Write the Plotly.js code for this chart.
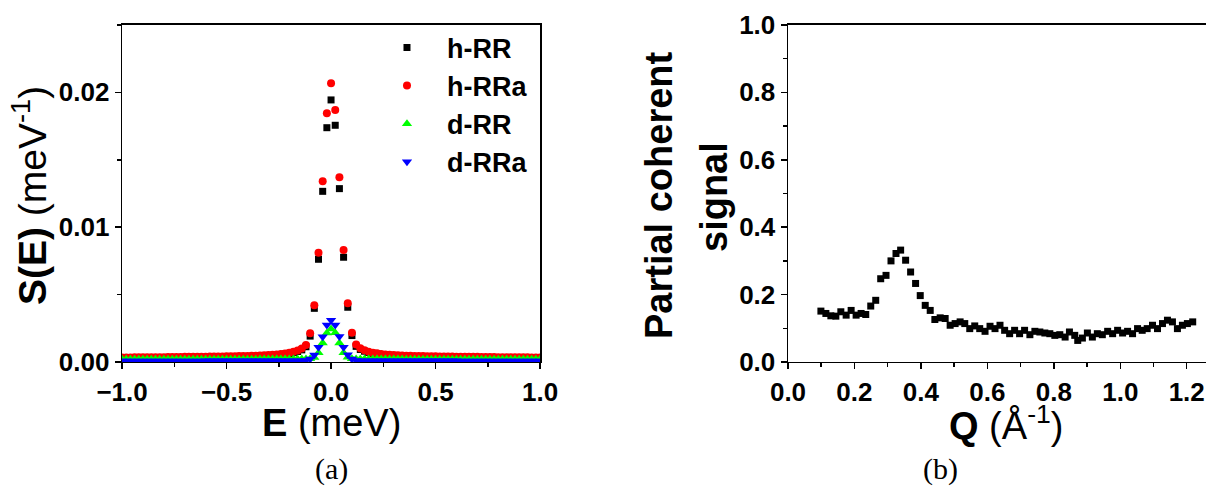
<!DOCTYPE html>
<html>
<head>
<meta charset="utf-8">
<script src="https://cdn.plot.ly/plotly-3.0.1.min.js"></script>
<style>html,body{margin:0;padding:0;background:#fff}#chart{width:1206px;height:487px}</style>
</head>
<body>
<div id="chart"></div>
<script>
// ---- Panel (a): S(E) vs E ----
const energy = [-1.00,-0.98,-0.96,-0.94,-0.92,-0.90,-0.88,-0.86,-0.84,-0.82,-0.80,-0.78,-0.76,-0.74,-0.72,-0.70,-0.68,-0.66,-0.64,-0.62,-0.60,-0.58,-0.56,-0.54,-0.52,-0.50,-0.48,-0.46,-0.44,-0.42,-0.40,-0.38,-0.36,-0.34,-0.32,-0.30,-0.28,-0.26,-0.24,-0.22,-0.20,-0.18,-0.16,-0.14,-0.12,-0.10,-0.08,-0.06,-0.04,-0.02,0.00,
  0.02,0.04,0.06,0.08,0.10,0.12,0.14,0.16,0.18,0.20,0.22,0.24,0.26,0.28,0.30,0.32,0.34,0.36,0.38,0.40,0.42,0.44,0.46,0.48,0.50,0.52,0.54,0.56,0.58,0.60,0.62,0.64,0.66,0.68,0.70,0.72,0.74,0.76,0.78,0.80,0.82,0.84,0.86,0.88,0.90,0.92,0.94,0.96,0.98,1.00];

const hRR = [0.00029,0.00029,0.00029,0.00030,0.00030,0.00030,0.00030,0.00031,0.00031,0.00031,0.00031,0.00032,0.00032,0.00032,0.00032,0.00033,0.00033,0.00033,0.00034,0.00034,0.00034,0.00035,0.00035,0.00036,0.00036,0.00037,0.00037,0.00038,0.00039,0.00039,0.00040,0.00041,0.00042,0.00043,0.00045,0.00046,0.00048,0.00051,0.00054,0.00058,0.00063,0.00069,0.00078,0.00090,0.00113,0.00192,0.00398,0.00762,0.01266,0.01738,0.01944,
  0.01756,0.01286,0.00777,0.00406,0.00196,0.00116,0.00093,0.00080,0.00070,0.00064,0.00059,0.00055,0.00052,0.00049,0.00047,0.00045,0.00043,0.00042,0.00041,0.00040,0.00039,0.00039,0.00038,0.00037,0.00037,0.00036,0.00036,0.00035,0.00035,0.00034,0.00034,0.00034,0.00033,0.00033,0.00033,0.00032,0.00032,0.00032,0.00032,0.00031,0.00031,0.00031,0.00031,0.00030,0.00030,0.00030,0.00030,0.00029,0.00029,0.00029];

const hRRa = [0.00034,0.00034,0.00034,0.00035,0.00035,0.00035,0.00035,0.00036,0.00036,0.00036,0.00036,0.00037,0.00037,0.00037,0.00037,0.00038,0.00038,0.00038,0.00039,0.00039,0.00039,0.00040,0.00040,0.00041,0.00041,0.00042,0.00042,0.00043,0.00044,0.00044,0.00045,0.00046,0.00047,0.00048,0.00050,0.00051,0.00053,0.00056,0.00059,0.00063,0.00068,0.00075,0.00085,0.00100,0.00126,0.00213,0.00420,0.00810,0.01340,0.01845,0.02067,
  0.01869,0.01370,0.00830,0.00435,0.00217,0.00129,0.00102,0.00087,0.00076,0.00069,0.00064,0.00060,0.00056,0.00053,0.00051,0.00050,0.00048,0.00047,0.00046,0.00045,0.00044,0.00044,0.00043,0.00042,0.00042,0.00041,0.00041,0.00040,0.00040,0.00039,0.00039,0.00039,0.00038,0.00038,0.00038,0.00037,0.00037,0.00037,0.00037,0.00036,0.00036,0.00036,0.00036,0.00035,0.00035,0.00035,0.00035,0.00034,0.00034,0.00034];

const dRR = [0.00020,0.00020,0.00020,0.00020,0.00020,0.00020,0.00020,0.00020,0.00020,0.00020,0.00020,0.00020,0.00020,0.00020,0.00020,0.00021,0.00021,0.00021,0.00021,0.00021,0.00021,0.00021,0.00021,0.00021,0.00021,0.00021,0.00021,0.00021,0.00021,0.00021,0.00021,0.00021,0.00021,0.00022,0.00022,0.00022,0.00022,0.00022,0.00022,0.00022,0.00022,0.00022,0.00022,0.00022,0.00022,0.00024,0.00034,0.00068,0.00140,0.00215,0.00245,
  0.00216,0.00141,0.00069,0.00035,0.00024,0.00022,0.00022,0.00022,0.00022,0.00022,0.00022,0.00022,0.00022,0.00022,0.00022,0.00022,0.00022,0.00021,0.00021,0.00021,0.00021,0.00021,0.00021,0.00021,0.00021,0.00021,0.00021,0.00021,0.00021,0.00021,0.00021,0.00021,0.00021,0.00021,0.00021,0.00020,0.00020,0.00020,0.00020,0.00020,0.00020,0.00020,0.00020,0.00020,0.00020,0.00020,0.00020,0.00020,0.00020,0.00020];

const dRRa = [0.00008,0.00008,0.00008,0.00008,0.00008,0.00008,0.00008,0.00008,0.00008,0.00008,0.00008,0.00008,0.00008,0.00008,0.00008,0.00008,0.00008,0.00008,0.00008,0.00008,0.00009,0.00009,0.00009,0.00009,0.00009,0.00009,0.00009,0.00009,0.00009,0.00009,0.00009,0.00009,0.00009,0.00009,0.00009,0.00010,0.00010,0.00010,0.00010,0.00010,0.00010,0.00010,0.00010,0.00010,0.00011,0.00022,0.00052,0.00109,0.00188,0.00274,0.00310,
  0.00274,0.00189,0.00110,0.00053,0.00022,0.00011,0.00010,0.00010,0.00010,0.00010,0.00010,0.00010,0.00010,0.00010,0.00010,0.00009,0.00009,0.00009,0.00009,0.00009,0.00009,0.00009,0.00009,0.00009,0.00009,0.00009,0.00009,0.00009,0.00009,0.00009,0.00008,0.00008,0.00008,0.00008,0.00008,0.00008,0.00008,0.00008,0.00008,0.00008,0.00008,0.00008,0.00008,0.00008,0.00008,0.00008,0.00008,0.00008,0.00008,0.00008];

const seriesNames = ["h-RR", "h-RRa", "d-RR", "d-RRa"];

// ---- Panel (b): partial coherent signal vs Q ----
const qValues = [0.099,0.114,0.129,0.144,0.159,0.175,0.190,0.205,0.220,0.234,0.249,0.264,0.279,0.295,0.310,0.325,0.339,0.354,0.369,0.384,0.398,0.413,0.428,0.442,0.458,0.473,0.488,0.503,0.518,0.532,0.547,0.562,0.577,0.593,0.608,0.623,0.638,0.652,0.667,0.682,0.697,0.712,0.728,0.743,0.758,0.773,0.788,0.803,0.818,0.834,0.847,0.863,0.872,0.886,0.901,0.916,0.931,0.946,0.962,0.977,0.992,1.007,1.022,1.037,1.052,1.066,1.081,1.097,1.112,1.127,1.142,1.157,1.172,1.187,1.202,1.218];
const coherentSignal = [0.151,0.144,0.137,0.136,0.149,0.139,0.153,0.139,0.144,0.141,0.166,0.183,0.247,0.257,0.300,0.322,0.332,0.302,0.267,0.233,0.197,0.168,0.153,0.126,0.131,0.129,0.109,0.114,0.119,0.114,0.099,0.107,0.099,0.091,0.106,0.099,0.109,0.094,0.084,0.094,0.084,0.094,0.081,0.091,0.089,0.086,0.084,0.079,0.081,0.074,0.089,0.079,0.064,0.071,0.086,0.074,0.084,0.081,0.091,0.084,0.094,0.086,0.091,0.084,0.099,0.094,0.099,0.109,0.099,0.114,0.124,0.119,0.099,0.109,0.114,0.119];

const FONT = "Liberation Sans, Arial, sans-serif";
const SERIF = "Liberation Serif, DejaVu Serif, serif";

const traces = [
  {x: energy, y: hRR, name: seriesNames[0], type: "scatter", mode: "markers",
   marker: {symbol: "square", size: 7, color: "#000000"}, xaxis: "x", yaxis: "y"},
  {x: energy, y: hRRa, name: seriesNames[1], type: "scatter", mode: "markers",
   marker: {symbol: "circle", size: 8, color: "#ff0000"}, xaxis: "x", yaxis: "y"},
  {x: energy, y: dRR, name: seriesNames[2], type: "scatter", mode: "markers",
   marker: {symbol: "triangle-up", size: 9, color: "#00ff00"}, xaxis: "x", yaxis: "y"},
  {x: energy, y: dRRa, name: seriesNames[3], type: "scatter", mode: "markers",
   marker: {symbol: "triangle-down", size: 9, color: "#0000ff"}, xaxis: "x", yaxis: "y"},
  {x: qValues, y: coherentSignal, name: "coherent", type: "scatter", mode: "markers",
   marker: {symbol: "square", size: 7, color: "#000000"}, xaxis: "x2", yaxis: "y2", showlegend: false}
];

const tickFont = {family: FONT, size: 26, color: "#000", weight: "bold"};
const axisCommon = {
  showgrid: false, zeroline: false, showline: true, mirror: true,
  linecolor: "#000", linewidth: 1.5, ticks: "outside", ticklen: 6, tickwidth: 1.5,
  tickcolor: "#000", tickfont: tickFont, fixedrange: true
};

const layout = {
  width: 1206, height: 487,
  margin: {l: 0, r: 0, t: 0, b: 0},
  paper_bgcolor: "#fff", plot_bgcolor: "#fff",
  showlegend: true,
  legend: {x: 0.3043, y: 0.952, xanchor: "left", yanchor: "top",
           font: {family: FONT, size: 27, color: "#000", weight: "bold"},
           bgcolor: "rgba(0,0,0,0)", borderwidth: 0, itemwidth: 70},
  xaxis: Object.assign({}, axisCommon, {
    domain: [0.1012, 0.4478], range: [-1, 1], tick0: -1, dtick: 0.5, tickformat: ".1f",
    minor: {ticks: "outside", ticklen: 4, tickwidth: 1.5, dtick: 0.25, tickcolor: "#000"},
    anchor: "y"}),
  yaxis: Object.assign({}, axisCommon, {
    domain: [0.2567, 0.9487], range: [0, 0.025], tick0: 0, dtick: 0.01, tickformat: ".2f",
    minor: {ticks: "outside", ticklen: 4, tickwidth: 1.5, dtick: 0.005, tickcolor: "#000"},
    anchor: "x"}),
  xaxis2: Object.assign({}, axisCommon, {
    domain: [0.6534, 1.0], range: [0, 1.258], tick0: 0, dtick: 0.2, tickformat: ".1f",
    minor: {ticks: "outside", ticklen: 4, tickwidth: 1.5, dtick: 0.1, tickcolor: "#000"},
    anchor: "y2"}),
  yaxis2: Object.assign({}, axisCommon, {
    domain: [0.2567, 0.9487], range: [0, 1.0], tick0: 0, dtick: 0.2, tickformat: ".1f",
    minor: {ticks: "outside", ticklen: 4, tickwidth: 1.5, dtick: 0.1, tickcolor: "#000"},
    anchor: "x2"}),
  annotations: [
    {text: "<b>S(E)</b> (meV<sup>-1</sup>)", xref: "paper", yref: "paper",
     x: 30/1206, y: (487-196)/487, xanchor: "center", yanchor: "middle", textangle: -90,
     showarrow: false, font: {family: FONT, size: 39, color: "#000"}},
    {text: "<b>E</b> (meV)", xref: "paper", yref: "paper",
     x: 331/1206, y: (487-423)/487, xanchor: "center", yanchor: "middle",
     showarrow: false, font: {family: FONT, size: 38, color: "#000"}},
    {text: "<b>Partial coherent</b>", xref: "paper", yref: "paper",
     x: 659/1206, y: (487-195)/487, xanchor: "center", yanchor: "middle", textangle: -90,
     showarrow: false, font: {family: FONT, size: 38, color: "#000"}},
    {text: "<b>signal</b>", xref: "paper", yref: "paper",
     x: 714/1206, y: (487-197)/487, xanchor: "center", yanchor: "middle", textangle: -90,
     showarrow: false, font: {family: FONT, size: 38, color: "#000"}},
    {text: "<b>Q</b> (Å<sup>-1</sup>)", xref: "paper", yref: "paper",
     x: 1006/1206, y: (487-423)/487, xanchor: "center", yanchor: "middle",
     showarrow: false, font: {family: FONT, size: 38, color: "#000"}},
    {text: "(a)", xref: "paper", yref: "paper",
     x: 331/1206, y: (487-469)/487, xanchor: "center", yanchor: "middle",
     showarrow: false, font: {family: SERIF, size: 30, color: "#000"}},
    {text: "(b)", xref: "paper", yref: "paper",
     x: 940/1206, y: (487-469)/487, xanchor: "center", yanchor: "middle",
     showarrow: false, font: {family: SERIF, size: 30, color: "#000"}}
  ]
};

Plotly.newPlot("chart", traces, layout, {displayModeBar: false, staticPlot: true});
</script>
</body>
</html>
